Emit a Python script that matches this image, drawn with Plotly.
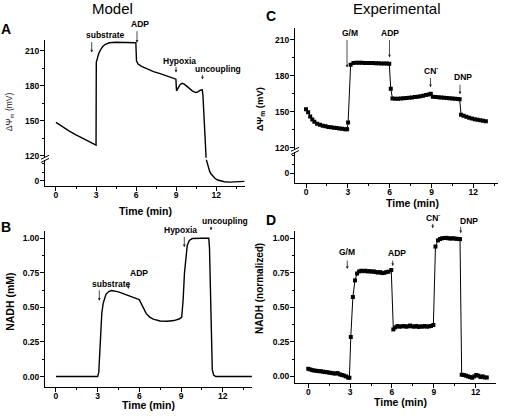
import plotly.graph_objects as go

# ---------------- data ----------------
# Panel A: model membrane potential (mV) vs time (min)
tA = [0, 0.5, 1, 1.5, 2, 2.5, 3.0, 3.02, 3.1, 3.2, 3.35, 3.5, 3.7, 4.0, 4.5, 5.0, 5.5, 5.98,
      6.0, 6.03, 6.15, 6.4, 6.8, 7.3, 7.8, 8.3, 8.8, 8.98, 9.0, 9.03, 9.15, 9.3, 9.45, 9.6,
      9.9, 10.2, 10.45, 10.6, 10.8, 10.95, 11.0, 11.1, 11.2, 11.25, 11.3, 11.4, 11.5, 11.6,
      11.75, 11.9, 12.1, 12.3, 12.6, 13.0, 13.5, 14.1]
psiA = [148.5, 144.5, 141, 137.8, 134.8, 131.8, 129, 200, 204, 207.5, 211, 213.5, 215.5, 216.8,
        217.2, 217.2, 217, 216.8, 210, 201, 198.5, 196.5, 194.5, 192, 190.3, 188.3, 186.2,
        185.5, 180, 175.5, 178, 181, 182, 181.3, 178.5, 175.5, 174, 174.5, 176, 176.3, 172,
        150, 125, 110, 95, 72, 50, 36, 22, 12, 3, -2, -6, -8, -7, -4]

# Panel B: model NADH (mM)
tB = [0, 1, 2, 3.0, 3.08, 3.15, 3.22, 3.3, 3.4, 3.5, 3.6, 3.8, 4.0, 4.5, 5.0, 5.5, 5.9, 6.0,
      6.1, 6.2, 6.35, 6.5, 6.75, 7.0, 7.5, 8.0, 8.5, 8.9, 9.05, 9.15, 9.25, 9.35, 9.45, 9.6,
      9.8, 10.5, 11.0, 11.05, 11.1, 11.15, 11.2, 11.25, 11.35, 11.5, 12.5, 14.1]
nadhB = [0, 0, 0, 0, 0.03, 0.2, 0.36, 0.46, 0.53, 0.57, 0.595, 0.615, 0.622, 0.612, 0.595,
         0.575, 0.56, 0.555, 0.535, 0.51, 0.48, 0.455, 0.43, 0.415, 0.402, 0.4, 0.405, 0.418,
         0.43, 0.55, 0.75, 0.88, 0.95, 0.985, 0.998, 1.0, 1.0, 0.93, 0.7, 0.42, 0.18, 0.05,
         0.01, 0.0, 0.0, 0.0]

# Panel C: experimental membrane potential (mV)
tC = [0.0, 0.15, 0.3, 0.45, 0.6, 0.8, 1.0, 1.2, 1.4, 1.6, 1.8, 2.0, 2.2, 2.4, 2.6, 2.8, 2.95,
      3.02, 3.2, 3.4, 3.6, 3.8, 4.0, 4.2, 4.4, 4.6, 4.8, 5.0, 5.2, 5.4, 5.6, 5.8, 5.97, 6.08,
      6.2, 6.4, 6.6, 6.8, 7.0, 7.2, 7.4, 7.6, 7.8, 8.0, 8.2, 8.4, 8.6, 8.8, 8.95, 9.1, 9.3,
      9.5, 9.7, 9.9, 10.1, 10.3, 10.5, 10.7, 10.9, 11.02, 11.12, 11.3, 11.5, 11.7, 11.9, 12.1,
      12.3, 12.5, 12.7, 12.9]
psiC = [152, 149.5, 146, 143.5, 141.5, 140, 139, 138.3, 137.8, 137.3, 136.9, 136.6, 136.3,
        136, 135.7, 135.4, 135.3, 141, 189, 190.5, 190.8, 190.8, 190.7, 190.6, 190.6, 190.5,
        190.5, 190.4, 190.3, 190.2, 190.2, 190.1, 189.9, 169, 161, 160.7, 160.8, 161, 161.2,
        161.4, 161.6, 161.9, 162.2, 162.5, 162.9, 163.3, 163.8, 164.4, 165, 162.5, 162.2,
        162, 161.8, 161.6, 161.4, 161.2, 161, 160.8, 160.6, 160.3, 147.5, 146.5, 145.8, 145,
        144.3, 143.7, 143.2, 142.8, 142.4, 142]

# Panel D: experimental NADH (normalized)
tD = [0.0, 0.15, 0.3, 0.45, 0.6, 0.75, 0.9, 1.05, 1.2, 1.35, 1.5, 1.65, 1.8, 1.95, 2.1, 2.25,
      2.4, 2.55, 2.7, 2.85, 2.95, 3.05, 3.2, 3.35, 3.5, 3.65, 3.8, 3.95, 4.1, 4.25, 4.4, 4.55,
      4.7, 4.85, 5.0, 5.15, 5.3, 5.45, 5.6, 5.75, 5.95, 6.1, 6.25, 6.4, 6.55, 6.7, 6.85, 7.0,
      7.15, 7.3, 7.45, 7.6, 7.75, 7.9, 8.05, 8.2, 8.35, 8.5, 8.65, 8.8, 8.97, 9.12, 9.3, 9.45,
      9.6, 9.75, 9.9, 10.05, 10.2, 10.35, 10.5, 10.65, 10.8, 10.88, 11.0, 11.15, 11.3, 11.45,
      11.6, 11.75, 11.9, 12.05, 12.2, 12.35, 12.5, 12.65, 12.8]
nadhD = [0.055, 0.05, 0.045, 0.042, 0.04, 0.038, 0.037, 0.034, 0.032, 0.03, 0.027, 0.025,
         0.022, 0.02, 0.024, 0.015, 0.01, 0.006, 0.0, -0.008, -0.01, 0.285, 0.575, 0.695,
         0.745, 0.76, 0.765, 0.762, 0.765, 0.76, 0.762, 0.758, 0.76, 0.755, 0.752, 0.755,
         0.748, 0.75, 0.755, 0.758, 0.77, 0.34, 0.355, 0.365, 0.36, 0.362, 0.365, 0.36, 0.362,
         0.368, 0.362, 0.36, 0.365, 0.358, 0.362, 0.36, 0.365, 0.36, 0.362, 0.365, 0.372,
         0.94, 0.985, 0.995, 1.0, 1.002, 1.003, 1.0, 0.998, 1.0, 0.998, 0.996, 0.995, 0.994,
         0.012, 0.01, 0.005, 0.0, -0.005, -0.01, 0.0, 0.01, 0.005, -0.005, 0.0, -0.008, -0.008]

time_ticks = [0, 3, 6, 9, 12]
time_minor = [1.5, 4.5, 7.5, 10.5, 13.5]
psi_ticks = [120, 150, 180, 210]
psi_minor = [135, 165, 195]
nadh_ticks = [0, 0.25, 0.5, 0.75, 1.0]
nadh_minor = [0.125, 0.375, 0.625, 0.875]

# ---------------- figure ----------------
W, H = 505, 418
FONT = "Liberation Sans, Arial, sans-serif"


def px(x):
    return x / W


def py(y):
    return 1 - y / H


fig = go.Figure()

line_style = dict(color="black", width=1.4)
exp_line = dict(color="black", width=1)
exp_marker = dict(symbol="square", size=4, color="black")

fig.add_trace(go.Scatter(x=tA, y=psiA, mode="lines", line=line_style, xaxis="x", yaxis="y"))
fig.add_trace(go.Scatter(x=tA, y=psiA, mode="lines", line=line_style, xaxis="x", yaxis="y2"))
fig.add_trace(go.Scatter(x=tC, y=psiC, mode="lines+markers", line=exp_line, marker=exp_marker,
                         xaxis="x2", yaxis="y3"))
fig.add_trace(go.Scatter(x=tC, y=psiC, mode="lines+markers", line=exp_line, marker=exp_marker,
                         xaxis="x2", yaxis="y4"))
fig.add_trace(go.Scatter(x=tB, y=nadhB, mode="lines", line=line_style, xaxis="x3", yaxis="y5"))
fig.add_trace(go.Scatter(x=tD, y=nadhD, mode="lines+markers", line=exp_line, marker=exp_marker,
                         xaxis="x4", yaxis="y6"))

tickfont = dict(family=FONT, size=8.5, color="black", weight="bold")


def axis_common():
    return dict(showline=True, linecolor="black", linewidth=1, showgrid=False, zeroline=False,
                ticks="outside", ticklen=4, tickwidth=1, tickcolor="black", tickfont=tickfont,
                fixedrange=True)


def xax(dom, rng, anchor):
    d = axis_common()
    d.update(domain=[px(dom[0]), px(dom[1])], range=rng, anchor=anchor, tickvals=time_ticks,
             ticklabelstandoff=-3,
             minor=dict(tickvals=time_minor, ticks="outside", ticklen=2, tickcolor="black"))
    return d


def yax(dom, rng, anchor, tv, mv, fmt=None):
    d = axis_common()
    d.update(domain=[py(dom[1]), py(dom[0])], range=rng, anchor=anchor, tickvals=tv,
             ticklabelstandoff=-1,
             minor=dict(tickvals=mv, ticks="outside", ticklen=2, tickcolor="black"))
    if fmt:
        d["tickformat"] = fmt
    return d


fig.update_layout(
    width=W, height=H, autosize=False,
    margin=dict(l=0, r=0, t=0, b=0),
    paper_bgcolor="white", plot_bgcolor="white",
    showlegend=False,
    xaxis=xax((45, 245), [-0.82, 14.15], "y2"),
    yaxis=yax((40, 159), [118, 219.4], "x", psi_ticks, psi_minor),
    yaxis2=yax((161, 187), [-27, 110], "x", [0], [45, 90]),
    xaxis2=xax((295, 498), [-0.79, 13.77], "y4"),
    yaxis3=yax((28, 151), [118.1, 219.9], "x2", psi_ticks, psi_minor),
    yaxis4=yax((153, 184), [-32.3, 70.7], "x2", [0], [30, 60]),
    xaxis3=xax((45, 252), [-0.79, 14.11], "y5"),
    yaxis5=yax((233, 390), [-0.077, 1.0503], "x3", nadh_ticks, nadh_minor, ".2f"),
    xaxis4=xax((295, 496), [-0.95, 13.46], "y6"),
    yaxis6=yax((232.7, 385.7), [-0.0475, 1.0525], "x4", nadh_ticks, nadh_minor, ".2f"),
)

ann = []


def text(x, y, s, size=8.5, bold=True, angle=0, color="black"):
    ann.append(dict(x=px(x), y=py(y), xref="paper", yref="paper", text=s, showarrow=False,
                    xanchor="center", yanchor="middle", textangle=angle,
                    font=dict(family=FONT, size=size, color=color,
                              weight="bold" if bold else "normal")))


def arrow(x, y0, y1):
    ann.append(dict(x=px(x), y=py(y1), xref="paper", yref="paper", text="", showarrow=True,
                    ax=0, ay=-(y1 - y0), axref="pixel", ayref="pixel", arrowhead=2,
                    arrowsize=0.7, arrowwidth=0.8, arrowcolor="#222", standoff=0))


# titles and panel letters
text(112, 9, "Model", size=15, bold=False)
text(397, 9, "Experimental", size=15, bold=False)
text(6, 29, "A", size=14)
text(271, 16, "C", size=14)
text(6, 229, "B", size=14)
text(271, 222, "D", size=14)

# axis titles
text(145, 213, "Time (min)", size=10.5)
text(412, 204, "Time (min)", size=10.5)
text(148, 408, "Time (min)", size=10.5)
text(400, 405, "Time (min)", size=10.5)
text(9, 113, "ΔΨ<sub>m</sub> (mV)", size=8.5, bold=False, angle=-90, color="#222")
text(260, 110, "ΔΨ<sub>m</sub> (mV)", size=9.5, angle=-90)
text(10, 304, "NADH (mM)", size=10.5, angle=-90)
text(260, 291, "NADH (normalized)", size=10, angle=-90)

# panel A labels
text(105, 35, "substrate")
arrow(91.7, 41, 53)
text(140, 24, "ADP")
arrow(137, 30, 43)
text(179, 61, "Hypoxia")
arrow(176, 66, 73)
text(218, 69, "uncoupling")
arrow(202.5, 74, 80)

# panel C labels
text(350, 33, "G/M")
arrow(347, 39, 68)
text(390, 33, "ADP")
arrow(389.5, 39, 58)
text(431, 71, "CN<sup>-</sup>")
arrow(430.5, 77, 88)
text(463, 78, "DNP")
arrow(460, 84, 95)

# panel B labels
text(111, 286, "substrate")
arrow(99.3, 291, 303)
text(139, 275, "ADP")
arrow(128.3, 284, 291)
text(180, 232, "Hypoxia")
arrow(184.3, 237, 249)
text(225, 223, "uncoupling")
arrow(211, 227, 232)

# panel D labels
text(347, 254, "G/M")
arrow(347.3, 261, 271)
text(397, 255, "ADP")
arrow(392.7, 261, 268)
text(433, 219, "CN<sup>-</sup>")
arrow(432.7, 224, 230)
text(469, 223, "DNP")
arrow(460.7, 227, 235)

fig.update_layout(annotations=ann)

# axis-break marks
shapes = []
for (xa, yb) in [(45, 160), (295, 152)]:
    for dy in (-1.6, 1.6):
        shapes.append(dict(type="line", xref="paper", yref="paper",
                           x0=px(xa - 4), y0=py(yb + dy + 2), x1=px(xa + 4), y1=py(yb + dy - 2),
                           line=dict(color="black", width=1)))
fig.update_layout(shapes=shapes)

fig.write_html("out.html", config={"displayModeBar": False},
               post_script="document.body.style.margin='0';")
